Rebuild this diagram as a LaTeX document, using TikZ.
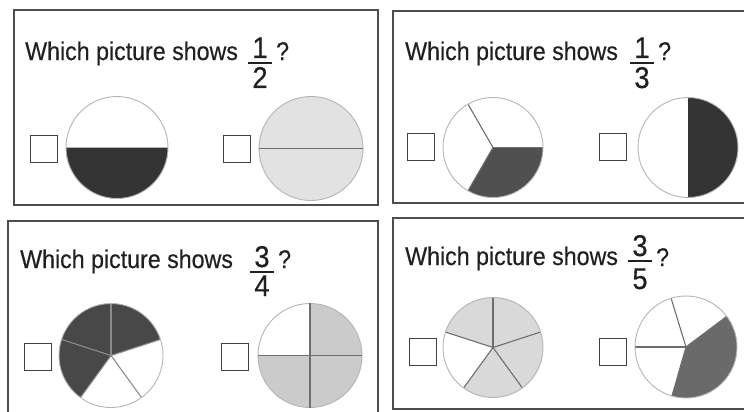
\documentclass[tikz,border=0pt]{standalone}
\usepackage{fontspec}
\setmainfont{Liberation Sans}[FakeStretch=0.91,FakeBold=0.4]
\usetikzlibrary{positioning}
\definecolor{ink}{HTML}{202020}
\definecolor{frame}{HTML}{4D4D4D}
\definecolor{rim}{HTML}{B4B4B4}
\definecolor{spoke}{HTML}{6E6E6E}
\definecolor{pieblack}{HTML}{343434}
\definecolor{piedark}{HTML}{505050}
\definecolor{piemid}{HTML}{6A6A6A}
\definecolor{pielight}{HTML}{E2E2E2}
\definecolor{piegrey}{HTML}{CBCBCB}
\definecolor{piepale}{HTML}{D9D9D9}

\begin{document}
\begin{tikzpicture}[x=1pt,y=1pt,
  panel/.style={draw=frame,line width=1.6pt},
  q/.style={font=\fontsize{25.5}{28}\selectfont,text=ink,anchor=base west,inner sep=0pt},
  dig/.style={font=\fontsize{30}{32}\selectfont,text=ink,anchor=base,inner sep=0pt},
  bar/.style={draw=ink,line width=1.5pt},
  tickbox/.style={rectangle,draw=ink!85,line width=1.4pt,minimum size=27pt,inner sep=0pt},
  pie/.style={circle,draw=rim,line width=0.9pt,inner sep=0pt},
  seg/.style={draw=spoke,line width=1.1pt}]
  \useasboundingbox (0,0) rectangle (744,-412);
  % the four question panels
  \draw[panel] (14,-10) rectangle (378,-205);
  \draw[panel] (393,-11) rectangle (752,-203);
  \draw[panel] (8,-221) rectangle (378,-420);
  \draw[panel] (393,-218) rectangle (752,-409);

  % --- 1/2 ---
  \node[q] (qa) at (25,-60) {Which picture shows};
  \node[dig] (na) at (260,-58) {1};
  \node[dig] (da) at (260,-88) {2};
  \draw[bar] (248,-63) -- (272,-63);
  \node[q] (ma) at (276,-60) {?};
  \node[tickbox] (ba1) at (44,-149) {};
  \node[tickbox] (ba2) at (237,-149) {};
  \coordinate (ca1) at (117,-147.5);
  \fill[pieblack] (ca1) -- ++(180:51pt) arc[start angle=180,end angle=360,radius=51pt] -- cycle;
  \node[pie,minimum size=102pt] (pa1) at (ca1) {};
  \coordinate (ca2) at (311,-148.5);
  \node[pie,fill=pielight,minimum size=104pt] (pa2) at (ca2) {};
  \draw[seg] (pa2.west) -- (pa2.east);

  % --- 1/3 ---
  \node[q] (qb) at (405,-60) {Which picture shows};
  \node[dig] (nb) at (642,-58) {1};
  \node[dig] (db) at (642,-88) {3};
  \draw[bar] (630,-63) -- (654,-63);
  \node[q] (mb) at (658,-60) {?};
  \node[tickbox] (bb1) at (421,-147) {};
  \node[tickbox] (bb2) at (613,-147) {};
  \coordinate (cb1) at (493,-147.5);
  \fill[piedark] (cb1) -- ++(240:50pt) arc[start angle=240,end angle=360,radius=50pt] -- cycle;
  \foreach \a in {0,120,240}
    \draw[seg] (cb1) -- ++(\a:50pt);
  \node[pie,minimum size=100pt] (pb1) at (cb1) {};
  \coordinate (cb2) at (688,-147.5);
  \fill[pieblack] (cb2) -- ++(-90:50pt) arc[start angle=-90,end angle=90,radius=50pt] -- cycle;
  \node[pie,minimum size=100pt] (pb2) at (cb2) {};

  % --- 3/4 ---
  \node[q] (qc) at (20,-268) {Which picture shows};
  \node[dig] (nc) at (262,-267) {3};
  \node[dig] (dc) at (262,-296) {4};
  \draw[bar] (250,-272) -- (274,-272);
  \node[q] (mc) at (278,-268) {?};
  \node[tickbox] (bc1) at (38,-357) {};
  \node[tickbox] (bc2) at (235,-357) {};
  \coordinate (cc1) at (111,-355.5);
  \fill[piedark!90!black] (cc1) -- ++(18:52pt) arc[start angle=18,end angle=234,radius=52pt] -- cycle;
  \foreach \a in {90,18,-54,-126,162}
    \draw[seg,draw=spoke!80] (cc1) -- ++(\a:52pt);
  \node[pie,minimum size=104pt] (pc1) at (cc1) {};
  \coordinate (cc2) at (310,-355.5);
  \fill[piegrey] (cc2) -- ++(180:52pt) arc[start angle=180,end angle=450,radius=52pt] -- cycle;
  \node[pie,minimum size=104pt] (pc2) at (cc2) {};
  \draw[seg] (pc2.west) -- (pc2.east);
  \draw[seg] (pc2.north) -- (pc2.south);

  % --- 3/5 ---
  \node[q] (qd) at (405,-265) {Which picture shows};
  \node[dig] (nd) at (640,-256) {3};
  \node[dig] (dd) at (640,-289) {5};
  \draw[bar] (628,-261) -- (652,-261);
  \node[q] (md) at (656,-266) {?};
  \node[tickbox] (bd1) at (423,-352) {};
  \node[tickbox] (bd2) at (613,-352) {};
  \coordinate (cd1) at (493,-347.5);
  \fill[piepale] (cd1) -- ++(234:50pt) arc[start angle=234,end angle=522,radius=50pt] -- cycle;
  \foreach \a in {90,18,-54,-126,162}
    \draw[seg] (cd1) -- ++(\a:50pt);
  \node[pie,minimum size=100pt] (pd1) at (cd1) {};
  \coordinate (cd2) at (686,-347);
  \fill[piemid] (cd2) -- ++(254:51pt) arc[start angle=254,end angle=397,radius=51pt] -- cycle;
  \foreach \a in {37,107,180,254}
    \draw[seg] (cd2) -- ++(\a:51pt);
  \node[pie,minimum size=102pt] (pd2) at (cd2) {};
\end{tikzpicture}
\end{document}
